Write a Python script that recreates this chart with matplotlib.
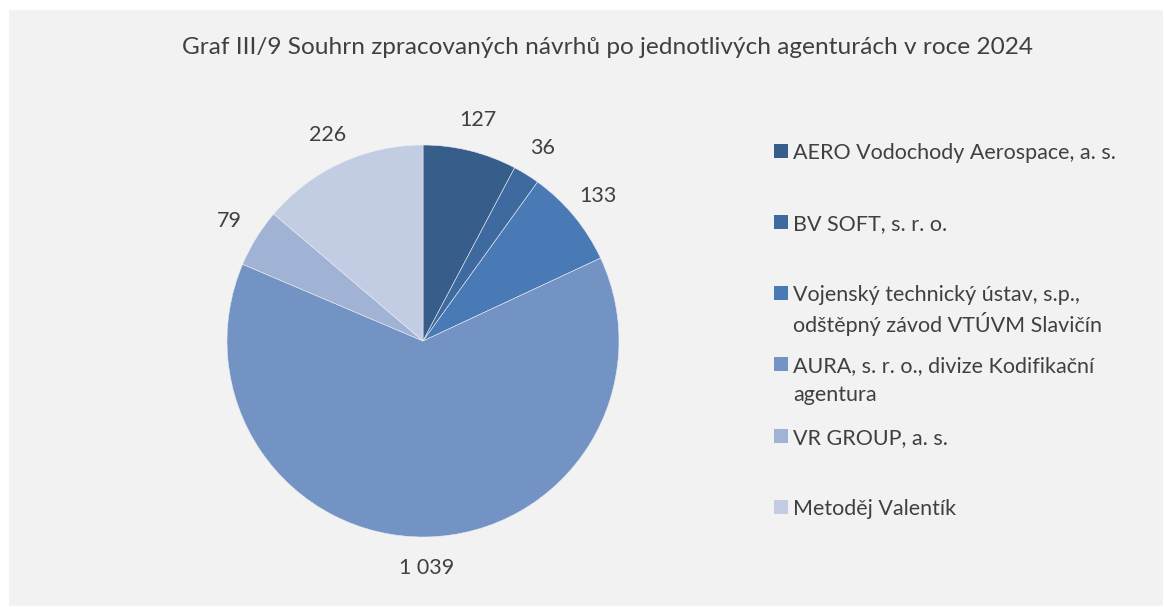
import matplotlib
matplotlib.use("Agg")
import matplotlib.pyplot as plt
from matplotlib.patches import Rectangle

title = "Graf III/9 Souhrn zpracovaných návrhů po jednotlivých agenturách v roce 2024"
categories = [
    "AERO Vodochody Aerospace, a. s.",
    "BV SOFT, s. r. o.",
    "Vojenský technický ústav, s.p.,\nodštěpný závod VTÚVM Slavičín",
    "AURA, s. r. o., divize Kodifikační\nagentura",
    "VR GROUP, a. s.",
    "Metoděj Valentík",
]
values = [127, 36, 133, 1039, 79, 226]
value_labels = ["127", "36", "133", "1 039", "79", "226"]
colors = ["#375D8B", "#3E6AA0", "#4A7AB5", "#7393C4", "#A0B3D5", "#C2CDE3"]

W, H = 1165, 607
plt.rcParams['font.family'] = ['Lato', 'DejaVu Sans']
fig = plt.figure(figsize=(W / 100, H / 100), dpi=100)
fig.patch.set_facecolor("white")
fig.patches.append(Rectangle((9 / W, 1 - 606 / H), (1163 - 9) / W, (606 - 10) / H,
                             transform=fig.transFigure, facecolor="#F2F2F2",
                             edgecolor="none", zorder=-10))

txt_color = "#404040"
fig.text(607 / W, 1 - 48 / H, title, ha="center", va="center",
         fontsize=17.6, color=txt_color)

cx, cy, r = 423, 341, 196
ax = fig.add_axes([(cx - r) / W, 1 - (cy + r) / H, 2 * r / W, 2 * r / H])
wedges, texts = ax.pie(values, colors=colors, startangle=90, counterclock=False,
                       labels=value_labels, labeldistance=1.16,
                       wedgeprops=dict(edgecolor="#E8ECF4", linewidth=0.4),
                       textprops=dict(fontsize=15.5, color=txt_color))
for t in texts:
    t.set_ha("center")
    t.set_va("center")
ax.set_xlim(-1, 1)
ax.set_ylim(-1, 1)
ax.set_aspect("equal")
ax.axis("off")

# legend
leg_y = [151, 222, 293, 364, 436, 507]
line_gap = 29
sq = 14
for wedge, lab, y in zip(wedges, categories, leg_y):
    fig.patches.append(Rectangle((774 / W, 1 - (y + sq / 2) / H), sq / W, sq / H,
                                 transform=fig.transFigure,
                                 facecolor=wedge.get_facecolor(), edgecolor="none"))
    for i, line in enumerate(lab.split("\n")):
        fig.text(793 / W, 1 - (y + i * line_gap) / H, line, ha="left",
                 va="center_baseline", fontsize=15.5, color=txt_color)

fig.savefig("out.png", dpi=100, facecolor=fig.get_facecolor())
